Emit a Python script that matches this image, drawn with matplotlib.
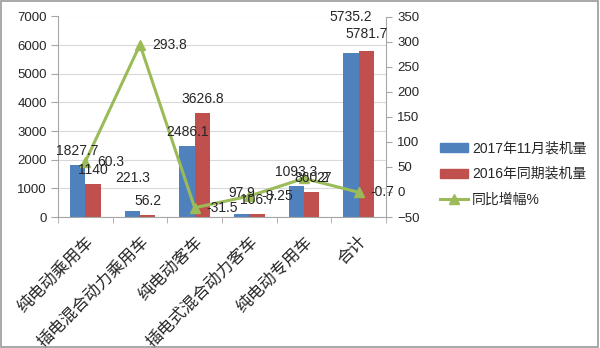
import matplotlib
matplotlib.use('Agg')
import matplotlib.pyplot as plt
from matplotlib.lines import Line2D
from matplotlib.patches import Patch, Rectangle
import numpy as np

plt.rcParams['font.family'] = ['Liberation Sans', 'Noto Sans CJK SC']
plt.rcParams['text.color'] = '#262626'

categories = ['纯电动乘用车', '插电混合动力乘用车', '纯电动客车', '插电式混合动力客车', '纯电动专用车', '合计']
vol_2017 = [1827.7, 221.3, 2486.1, 97.9, 1093.3, 5735.2]
vol_2016 = [1140, 56.2, 3626.8, 106.7, 860.2, 5781.7]
growth = [60.3, 293.8, -31.5, -8.25, 27, -0.7]
growth_labels = ['60.3', '293.8', '-31.5', '-8.25', '27', '-0.7']
series_names = ['2017年11月装机量', '2016年同期装机量', '同比增幅%']

blue = '#4F81BD'
red = '#C0504D'
green = '#9BBB59'
axis_gray = '#A6A6A6'

fig = plt.figure(figsize=(6, 3.48), dpi=100)
ax = fig.add_axes([58 / 600, 1 - 217 / 348, (386 - 58) / 600, (217 - 16.5) / 348])
ax2 = ax.twinx()

x = np.arange(len(categories))
w = 0.28
bars1 = ax.bar(x - w / 2, vol_2017, w, color=blue, zorder=2)
bars2 = ax.bar(x + w / 2, vol_2016, w, color=red, zorder=2)

ax.set_xlim(-0.5, len(categories) - 0.5)
ax.set_ylim(0, 7000)
ax.set_yticks(range(0, 7001, 1000))
ax.grid(axis='y', color='#D9D9D9', lw=0.8, zorder=0)
ax.set_axisbelow(True)

# category boundaries get the tick marks, labels sit under the centres
ax.set_xticks(x)
ax.set_xticks(np.arange(-0.5, len(categories)), minor=True)
ax.tick_params(axis='x', which='major', length=0, pad=12)
ax.tick_params(axis='x', which='minor', length=4, color=axis_gray, direction='out')
ax.set_xticklabels(categories, rotation=45, ha='right', va='top',
                   rotation_mode='anchor', fontsize=12, color='#262626')
ax.tick_params(axis='y', length=5, color=axis_gray, labelsize=9.5, pad=3, labelcolor='#262626')

for a in (ax, ax2):
    a.spines['top'].set_visible(False)
    for s in ('left', 'right', 'bottom'):
        a.spines[s].set_color(axis_gray)
ax.spines['right'].set_visible(False)
ax2.spines['left'].set_visible(False)
ax2.spines['bottom'].set_visible(False)

ax2.set_ylim(-50, 350)
ax2.set_yticks(range(-50, 351, 50))
ax2.tick_params(axis='y', length=4, color=axis_gray, labelsize=9.5, pad=4, labelcolor='#262626')

ax2.plot(x, growth, color=green, lw=2.2, marker='^', markersize=7, zorder=3)

# bar value labels, a few sit higher than the rest; drawn on ax2 so they stay above the line
extra_2017 = [0, 19, 0, 7, 0, 22]
extra_2016 = [0, 0, 0, 0, 0, 3]
for bars, vals, extra in ((bars1, vol_2017, extra_2017), (bars2, vol_2016, extra_2016)):
    for b, v, e in zip(bars, vals, extra):
        ax2.annotate(f'{v:g}', (b.get_x() + b.get_width() / 2, v), xycoords=ax.transData,
                     xytext=(0, (14 + e) * 0.72), textcoords='offset points',
                     ha='center', va='center', fontsize=10, color='#262626', zorder=4)

for xi, g, lab in zip(x, growth, growth_labels):
    ax2.annotate(lab, (xi, g), xytext=(12 * 0.72, 0), textcoords='offset points',
                 ha='left', va='center', fontsize=10, color='#262626', zorder=4)

handles = [Patch(color=blue), Patch(color=red),
           Line2D([], [], color=green, lw=2.2, marker='^', markersize=7)]
fig.legend(handles, series_names, loc='center left', bbox_to_anchor=(440 / 600, 1 - 174 / 348),
           frameon=False, fontsize=10, handlelength=2.0, handleheight=0.6,
           handletextpad=0.3, labelspacing=0.85, borderpad=0, borderaxespad=0)

fig.patches.append(Rectangle((0.002, 0.003), 0.995, 0.994, transform=fig.transFigure,
                             fill=False, edgecolor='#9A9A9A', lw=1.2))

fig.savefig('out.png', dpi=100)
